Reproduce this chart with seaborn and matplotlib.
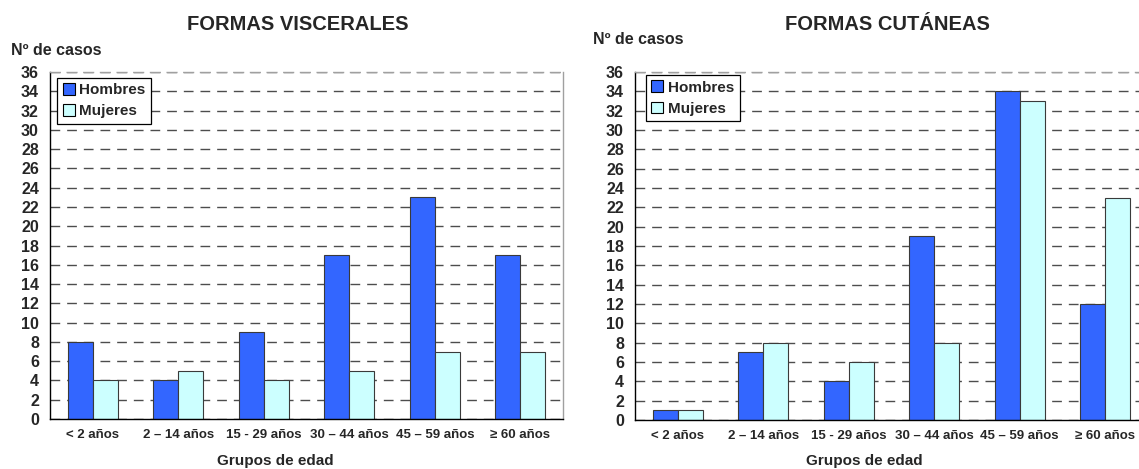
import numpy as np
import pandas as pd
import matplotlib
matplotlib.use("Agg")
import matplotlib.pyplot as plt
import seaborn as sns

sns.set_theme(style="white")
plt.rcParams['font.family'] = ['Liberation Sans', 'DejaVu Sans']
plt.rcParams['font.weight'] = 'bold'

# data
grupos = ['< 2 años', '2 – 14 años', '15 - 29 años', '30 – 44 años', '45 – 59 años', '≥ 60 años']
visc_hombres = [8, 4, 9, 17, 23, 17]
visc_mujeres = [4, 5, 4, 5, 7, 7]
cut_hombres = [1, 7, 4, 19, 34, 12]
cut_mujeres = [1, 8, 6, 8, 33, 23]
sexos = ['Hombres', 'Mujeres']
colores = {'Hombres': '#3366FF', 'Mujeres': '#CCFFFF'}

W, H = 1139, 469


def long_df(hombres, mujeres):
    return pd.DataFrame({
        'grupo': grupos * 2,
        'sexo': ['Hombres'] * len(grupos) + ['Mujeres'] * len(grupos),
        'casos': hombres + mujeres,
    })


def draw(ax, df, legend_anchor):
    sns.barplot(data=df, x='grupo', y='casos', hue='sexo', hue_order=sexos,
                palette=colores, width=0.58, edgecolor='#3a3a3a', linewidth=0.8,
                saturation=1, ax=ax)
    ax.set_xlim(-0.5, 5.5)
    ax.set_ylim(0, 36)
    ax.set_yticks(np.arange(0, 37, 2))
    ax.set_xticks(np.arange(-0.5, 6, 1), minor=True)
    ax.tick_params(axis='x', which='major', length=0, pad=7, labelsize=9.5)
    ax.tick_params(axis='x', which='minor', length=4, width=0.8, color='black', direction='out')
    ax.tick_params(axis='y', length=5, width=0.8, color='black', direction='out', pad=3, labelsize=11.5)
    for lab in ax.get_xticklabels() + ax.get_yticklabels():
        lab.set_fontweight('bold')
    ax.set_xlabel('')
    ax.set_ylabel('')
    ax.yaxis.grid(True, color='#4d4d4d', linestyle=(0, (7, 5)), linewidth=1)
    ax.set_axisbelow(True)
    for side in ['left', 'bottom']:
        ax.spines[side].set_color('black')
        ax.spines[side].set_linewidth(1)
    for side in ['top', 'right']:
        ax.spines[side].set_color('#a0a0a0')
        ax.spines[side].set_linewidth(1)
    ax.spines['top'].set_linestyle((0, (7, 5)))
    ax.set_facecolor('white')
    leg = ax.legend(loc='upper left', bbox_to_anchor=legend_anchor, borderaxespad=0,
                    frameon=True, fancybox=False, edgecolor='black', framealpha=1,
                    prop={'weight': 'bold', 'size': 11}, handlelength=0.8, handleheight=0.8,
                    handletextpad=0.3, borderpad=0.35, labelspacing=0.45)
    leg.get_frame().set_linewidth(0.9)
    for h in leg.legend_handles:
        h.set_edgecolor('black')
        h.set_linewidth(0.8)


fig = plt.figure(figsize=(W / 100, H / 100), dpi=100)
fig.patch.set_facecolor('white')

ax1 = fig.add_axes([50 / W, 1 - 419 / H, 513 / W, 347 / H])
draw(ax1, long_df(visc_hombres, visc_mujeres), (0.014, 0.983))

ax2 = fig.add_axes([635 / W, 1 - 420 / H, 513 / W, 348 / H])
draw(ax2, long_df(cut_hombres, cut_mujeres), (0.021, 0.991))

# titles and axis captions
fig.text(298 / W, 1 - 30 / H, 'FORMAS VISCERALES', ha='center', va='baseline', fontsize=14.5, fontweight='bold')
fig.text(887 / W, 1 - 30 / H, 'FORMAS CUTÁNEAS', ha='center', va='baseline', fontsize=14.5, fontweight='bold')
fig.text(11 / W, 1 - 55 / H, 'Nº de casos', ha='left', va='baseline', fontsize=11.5, fontweight='bold')
fig.text(593 / W, 1 - 44 / H, 'Nº de casos', ha='left', va='baseline', fontsize=11.5, fontweight='bold')
fig.text(275 / W, 1 - 465 / H, 'Grupos de edad', ha='center', va='baseline', fontsize=11, fontweight='bold')
fig.text(864 / W, 1 - 465 / H, 'Grupos de edad', ha='center', va='baseline', fontsize=11, fontweight='bold')

fig.savefig('out.png', dpi=100, facecolor='white')
